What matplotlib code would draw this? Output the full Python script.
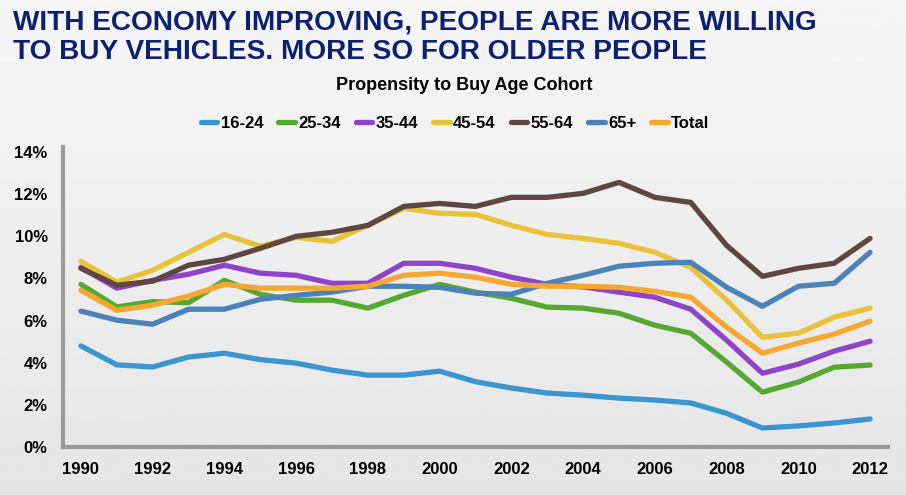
import numpy as np
import matplotlib
matplotlib.use("Agg")
import matplotlib.pyplot as plt

years = list(range(1990, 2013))

age_16_24 = [4.8, 3.9, 3.8, 4.27, 4.45, 4.15, 3.98, 3.65, 3.41, 3.41, 3.6, 3.1, 2.8, 2.56, 2.46,
             2.32, 2.23, 2.09, 1.6, 0.9, 1.0, 1.14, 1.33]
age_25_34 = [7.72, 6.65, 6.9, 6.85, 7.91, 7.25, 6.97, 6.97, 6.59, 7.2, 7.72, 7.35, 7.06, 6.64, 6.59,
             6.35, 5.78, 5.4, 4.03, 2.6, 3.08, 3.79, 3.89]
age_35_44 = [8.53, 7.54, 7.91, 8.2, 8.63, 8.25, 8.15, 7.77, 7.77, 8.72, 8.72, 8.48, 8.06, 7.72, 7.6,
             7.35, 7.11, 6.54, 5.07, 3.5, 3.93, 4.55, 5.02]
age_45_54 = [8.82, 7.82, 8.39, 9.24, 10.09, 9.53, 9.95, 9.76, 10.52, 11.33, 11.09, 11.04, 10.52, 10.09, 9.9,
             9.67, 9.24, 8.53, 6.97, 5.21, 5.4, 6.16, 6.59]
age_55_64 = [8.48, 7.68, 7.87, 8.63, 8.91, 9.43, 10.0, 10.19, 10.52, 11.42, 11.56, 11.42, 11.85, 11.85, 12.04,
             12.56, 11.85, 11.61, 9.57, 8.1, 8.48, 8.72, 9.9]
age_65_plus = [6.45, 6.02, 5.83, 6.54, 6.54, 7.01, 7.2, 7.35, 7.63, 7.63, 7.58, 7.3, 7.25, 7.77, 8.15,
               8.58, 8.72, 8.77, 7.58, 6.68, 7.63, 7.77, 9.24]
total = [7.44, 6.49, 6.73, 7.16, 7.72, 7.54, 7.54, 7.54, 7.63, 8.15, 8.25, 8.06, 7.72, 7.63, 7.63,
         7.58, 7.39, 7.11, 5.69, 4.45, 4.93, 5.36, 5.97]

series_names = ["16-24", "25-34", "35-44", "45-54", "55-64", "65+", "Total"]
series_values = [age_16_24, age_25_34, age_35_44, age_45_54, age_55_64, age_65_plus, total]
colors = ["#3a96cf", "#55a832", "#8f44c8", "#e8c23a", "#5f4640", "#4d82b8", "#f4a732"]

font = ["Liberation Sans Narrow", "Liberation Sans", "DejaVu Sans"]

fig = plt.figure(figsize=(9.06, 4.95), dpi=100)

# light gray gradient background
bg = fig.add_axes([0, 0, 1, 1], zorder=-1)
grad = np.linspace(0.965, 0.9, 256).reshape(-1, 1)
bg.imshow(grad, cmap="gray", vmin=0, vmax=1, aspect="auto", extent=[0, 1, 0, 1])
bg.axis("off")

ax = fig.add_axes([63 / 906, 1 - 447 / 495, (888 - 63) / 906, (447 - 147) / 495])
ax.patch.set_alpha(0)

for name, vals, c in zip(series_names, series_values, colors):
    ax.plot(years, vals, color=c, lw=3.8, solid_capstyle="round", solid_joinstyle="round", label=name)

ax.set_xlim(1989.5, 2012.5)
ax.set_ylim(0, 14.24)
ax.set_xticks(range(1990, 2013, 2))
ax.set_yticks(range(0, 15, 2))
ax.set_yticklabels([f"{v}%" for v in range(0, 15, 2)])
for lab in ax.get_xticklabels() + ax.get_yticklabels():
    lab.set_family(font)
    lab.set_fontweight("bold")
    lab.set_fontsize(12)
ax.tick_params(length=0)
ax.tick_params(axis="x", pad=11)
ax.tick_params(axis="y", pad=11)

for s in ["top", "right"]:
    ax.spines[s].set_visible(False)
for s in ["left", "bottom"]:
    ax.spines[s].set_color("#9a9a9a")
    ax.spines[s].set_linewidth(3)

fig.text(0.014, 1 - 37 / 495, "WITH ECONOMY IMPROVING, PEOPLE ARE MORE WILLING\nTO BUY VEHICLES. MORE SO FOR OLDER PEOPLE",
         family=font, fontsize=20.2, fontweight="bold", color="#0c2170", va="center", ha="left",
         linespacing=1.18)
fig.text(464 / 906, 1 - 86 / 495, "Propensity to Buy Age Cohort", family=font, fontsize=13,
         fontweight="bold", ha="center", va="center")

leg = ax.legend(loc="center", bbox_to_anchor=(455 / 906, 1 - 123 / 495), bbox_transform=fig.transFigure,
                ncol=7, frameon=False, handlelength=1.0, handletextpad=0.2, columnspacing=0.9,
                prop={"family": font, "weight": "bold", "size": 12})

fig.savefig("out.png", dpi=100)
